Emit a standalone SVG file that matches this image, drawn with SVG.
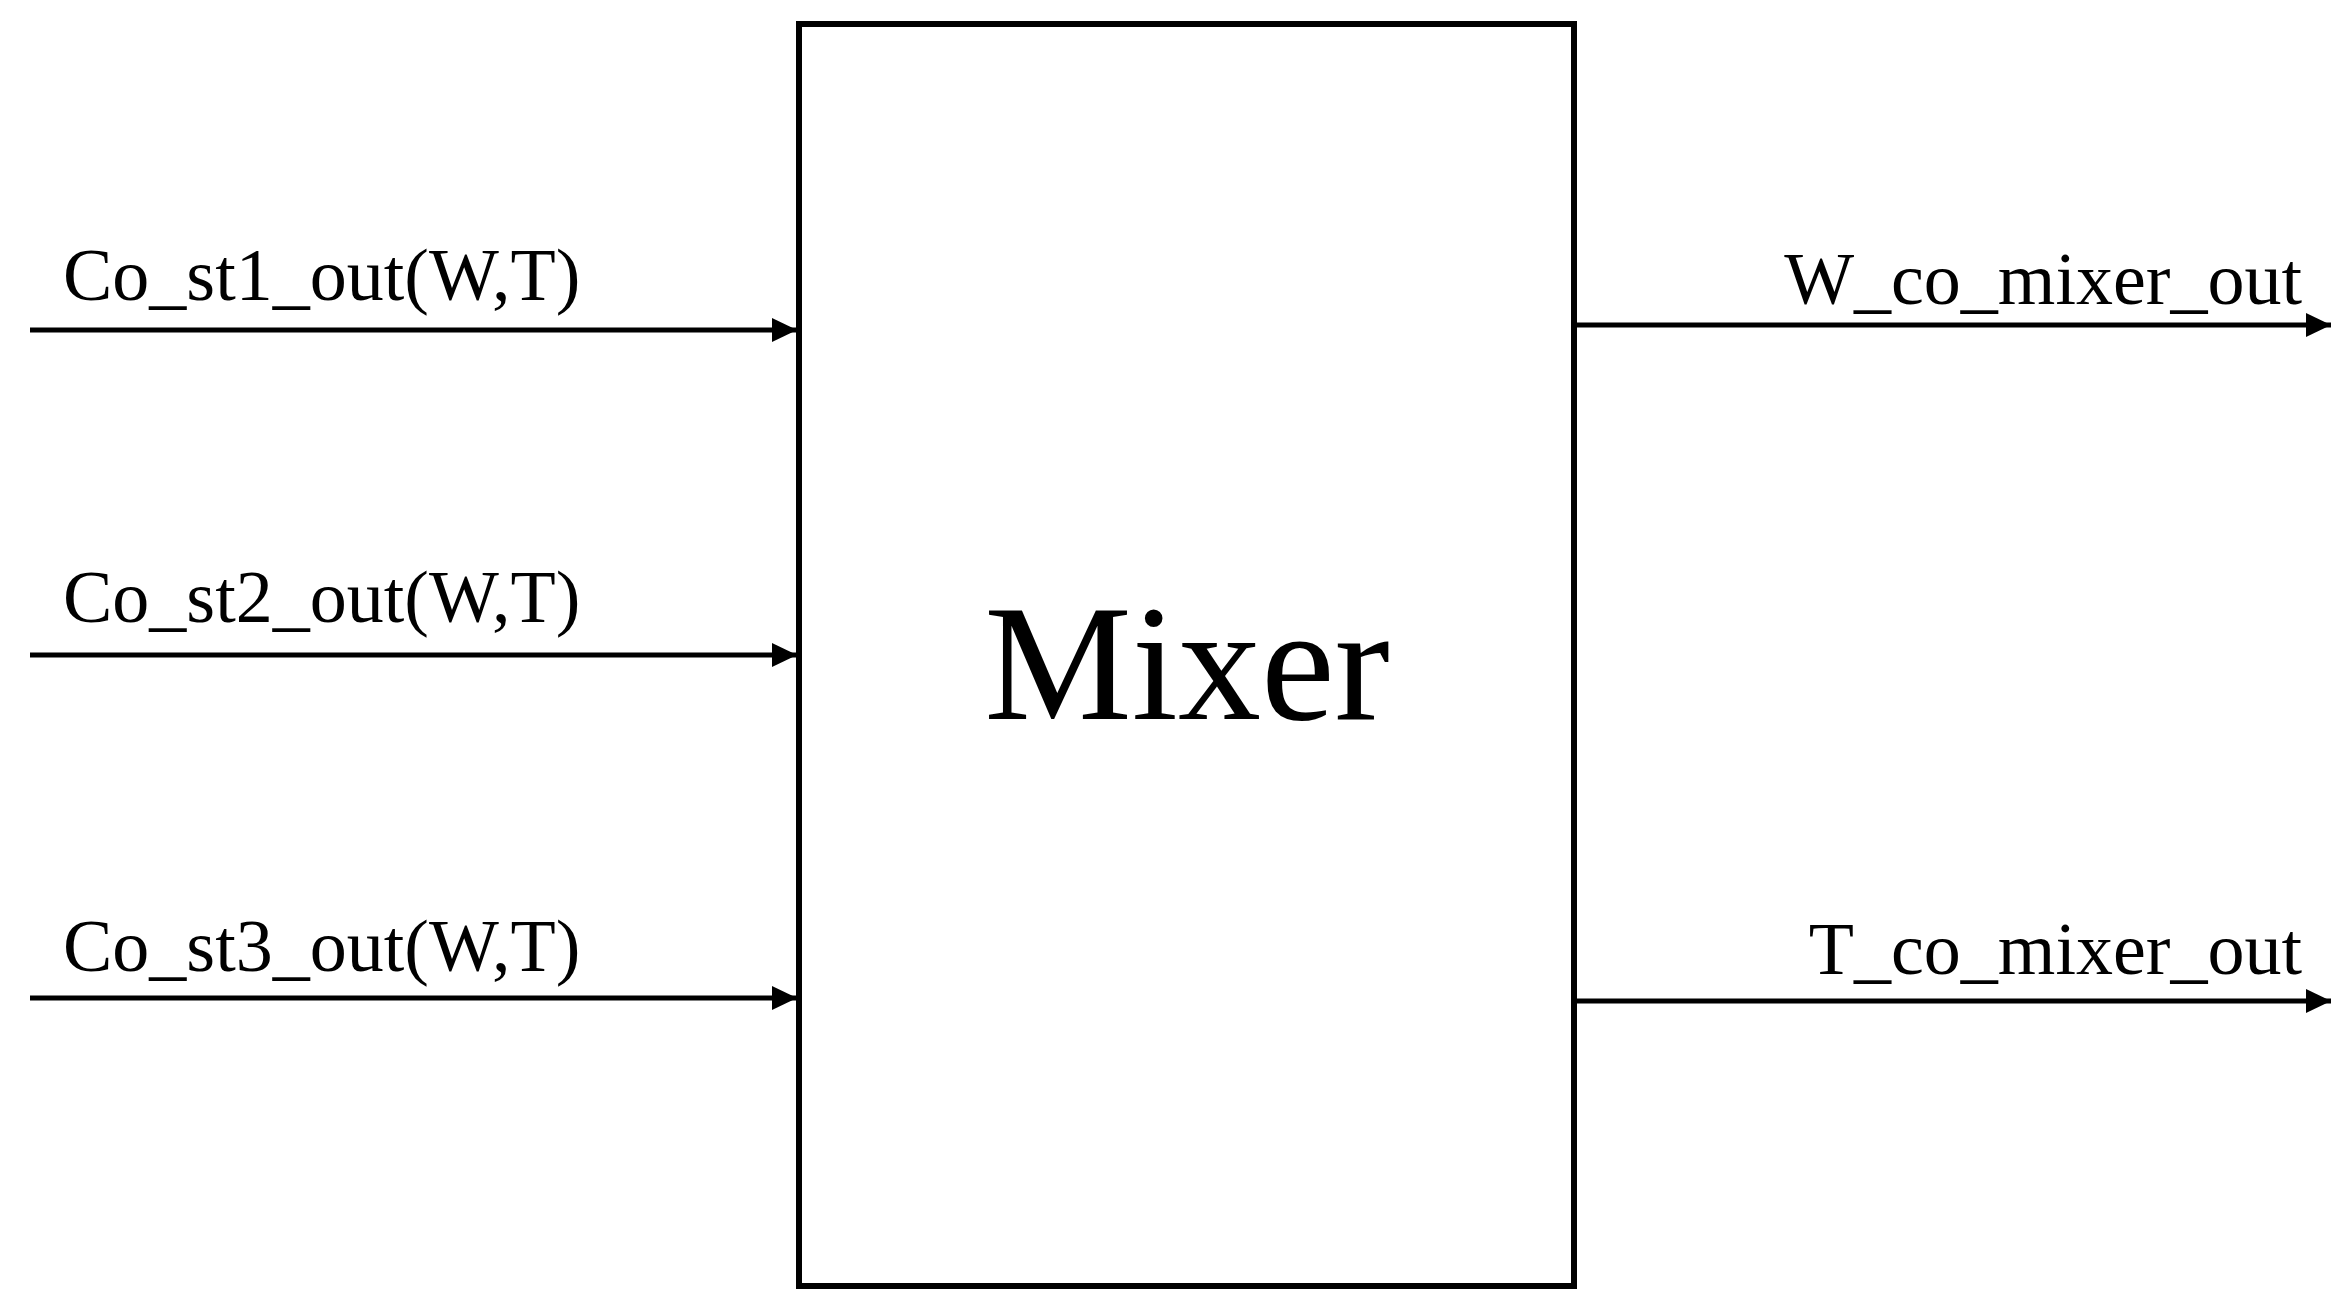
<svg xmlns="http://www.w3.org/2000/svg" width="2350" height="1313" viewBox="0 0 2350 1313">
<style>
.t{font-family:"Liberation Serif","Times New Roman",serif;font-size:74px;fill:#000}
.c line{stroke:#000;stroke-width:5}
</style>
<defs><marker id="a" markerWidth="6" markerHeight="6" refX="5" refY="3" orient="auto" markerUnits="strokeWidth"><path d="M0,0.6 L5,3 L0,5.4 Z" fill="#000"/></marker></defs>
<rect width="2350" height="1313" fill="#fff"/>
<g id="mixer"><rect x="799" y="24" width="775" height="1262" fill="#fff" stroke="#000" stroke-width="6"/>
<text x="1187" y="719" text-anchor="middle" class="t" style="font-size:166px">Mixer</text></g>
<g class="c" id="connectors">
<line x1="30" y1="330" x2="797" y2="330" marker-end="url(#a)"/>
<line x1="30" y1="655" x2="797" y2="655" marker-end="url(#a)"/>
<line x1="30" y1="998" x2="797" y2="998" marker-end="url(#a)"/>
<line x1="1577" y1="325" x2="2331" y2="325" marker-end="url(#a)"/>
<line x1="1577" y1="1001" x2="2331" y2="1001" marker-end="url(#a)"/>
</g>
<g id="labels">
<text class="t" x="63" y="300">Co_st1_out(W,T)</text>
<text class="t" x="63" y="622">Co_st2_out(W,T)</text>
<text class="t" x="63" y="971">Co_st3_out(W,T)</text>
<text class="t" x="2302" y="304" text-anchor="end">W_co_mixer_out</text>
<text class="t" x="2302" y="974" text-anchor="end">T_co_mixer_out</text>
</g>
</svg>
